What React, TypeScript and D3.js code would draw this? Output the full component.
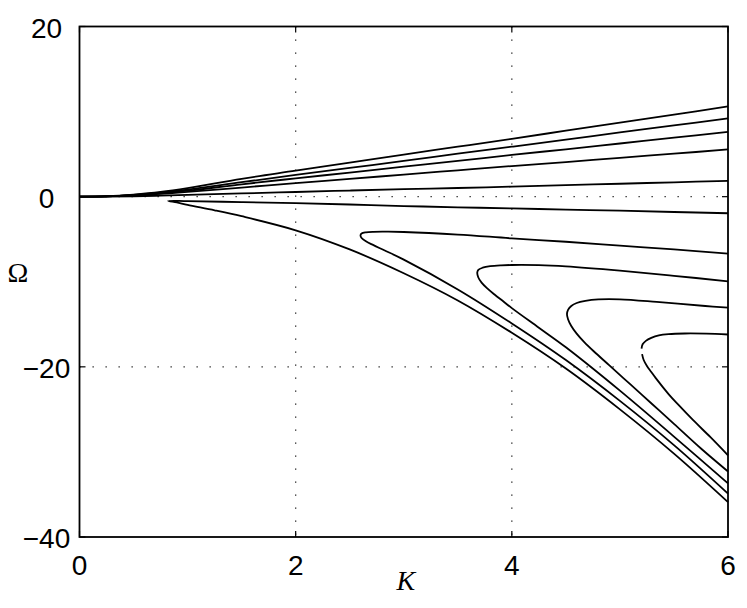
import React from "react";
import * as d3 from "d3";

// axis ticks
const xTicks = [0, 2, 4, 6];
const yTicks = [20, 0, -20, -40];
const xGrid = [2, 4];
const yGrid = [0, -20];

// branches rising from the origin (K, Omega)
const upper1 = [[0, 0], [0.25, 0.06], [0.5, 0.25], [0.75, 0.55], [1, 1.0], [1.5, 2.1], [2, 3.05], [2.5, 4.0], [3, 4.95], [3.5, 5.87], [4, 6.8], [4.5, 7.75], [5, 8.7], [5.5, 9.65], [6, 10.6]];
const upper2 = [[0, 0], [0.25, 0.05], [0.5, 0.22], [0.75, 0.48], [1, 0.83], [1.5, 1.7], [2, 2.55], [2.5, 3.38], [3, 4.2], [3.5, 5.05], [4, 5.87], [4.5, 6.7], [5, 7.55], [5.5, 8.37], [6, 9.2]];
const upper3 = [[0, 0], [0.25, 0.04], [0.5, 0.18], [0.75, 0.4], [1, 0.7], [1.5, 1.45], [2, 2.15], [2.5, 2.83], [3, 3.52], [3.5, 4.2], [4, 4.9], [4.5, 5.57], [5, 6.25], [5.5, 6.93], [6, 7.62]];
const upper4 = [[0, 0], [0.25, 0.03], [0.5, 0.14], [0.75, 0.32], [1, 0.56], [1.5, 1.07], [2, 1.6], [2.5, 2.08], [3, 2.6], [3.5, 3.1], [4, 3.6], [4.5, 4.07], [5, 4.57], [5.5, 5.05], [6, 5.55]];
const upper5 = [[0, 0], [0.25, 0.01], [0.5, 0.05], [0.75, 0.12], [1, 0.2], [1.5, 0.38], [2, 0.55], [2.5, 0.72], [3, 0.88], [3.5, 1.02], [4, 1.18], [4.5, 1.35], [5, 1.52], [5.5, 1.69], [6, 1.86]];

// folded branches: upper arm and lower arm, both starting at the nose
const fold1Top = [[0.82, -0.49], [1, -0.52], [1.5, -0.64], [2, -0.77], [2.5, -0.92], [3, -1.1], [3.5, -1.25], [4, -1.38], [4.5, -1.52], [5, -1.65], [5.5, -1.8], [6, -1.95]];
const fold1Bot = [[0.82, -0.49], [0.9, -0.68], [1, -0.97], [1.25, -1.6], [1.5, -2.3], [2, -3.95], [2.5, -6.2], [3, -9.0], [3.5, -12.2], [4, -16.0], [4.5, -20.2], [5, -25.0], [5.5, -30.2], [6, -35.9]];
const fold2Top = [[2.6, -4.53], [2.61, -4.32], [2.65, -4.19], [2.72, -4.13], [2.85, -4.12], [3, -4.15], [3.5, -4.45], [4, -4.9], [4.5, -5.3], [5, -5.75], [5.5, -6.2], [6, -6.7]];
const fold2Bot = [[2.6, -4.53], [2.61, -4.85], [2.65, -5.25], [2.72, -5.7], [2.82, -6.3], [3, -7.4], [3.5, -10.9], [4, -14.9], [4.5, -19.2], [5, -24.0], [5.5, -29.2], [6, -34.9]];
const fold3Top = [[3.68, -8.92], [3.69, -8.6], [3.73, -8.35], [3.8, -8.17], [3.9, -8.07], [4, -8.03], [4.25, -8.05], [4.5, -8.2], [5, -8.7], [5.5, -9.3], [6, -9.95]];
const fold3Bot = [[3.68, -8.92], [3.69, -9.5], [3.72, -10.1], [3.77, -10.75], [3.84, -11.5], [3.92, -12.3], [4, -13.1], [4.25, -15.4], [4.5, -17.7], [5, -22.8], [5.5, -28.2], [6, -33.7]];
const fold4Top = [[4.51, -13.8], [4.52, -13.3], [4.55, -12.85], [4.6, -12.5], [4.68, -12.25], [4.8, -12.08], [5, -12.07], [5.34, -12.37], [5.79, -12.85], [6, -13.05]];
const fold4Bot = [[4.51, -13.8], [4.52, -14.4], [4.55, -15.2], [4.6, -16.1], [4.67, -17.1], [4.76, -18.2], [4.9, -19.8], [5.1, -22.1], [5.3, -24.4], [5.5, -26.7], [5.75, -29.6], [6, -32.3]];
const fold5Top = [[5.2, -17.86], [5.21, -17.35], [5.24, -16.95], [5.29, -16.6], [5.36, -16.3], [5.45, -16.15], [5.6, -16.08], [5.8, -16.1], [6, -16.2]];
const fold5Bot = [[5.205, -18.5], [5.22, -19.2], [5.25, -19.9], [5.29, -20.6], [5.33, -21.3], [5.45, -23.2], [5.54, -24.45], [5.68, -26.3], [5.84, -28.3], [6, -30.4]];

const width = 747;
const height = 608;
const left = 79.5, right = 728, top = 26.5, bottom = 537;

export default function App() {
  const x = d3.scaleLinear().domain([0, 6]).range([left, right]);
  const y = d3.scaleLinear().domain([-40, 20]).range([bottom, top]);

  const line = d3
    .line<number[]>()
    .x((d) => x(d[0]))
    .y((d) => y(d[1]))
    .curve(d3.curveCatmullRom.alpha(0.5));

  // join each fold through its nose so it reads as one curve
  const joined = (a: number[][], b: number[][]) => [...b.slice().reverse(), ...a.slice(1)];

  const paths = [
    upper1, upper2, upper3, upper4, upper5,
    joined(fold1Top, fold1Bot),
    joined(fold2Top, fold2Bot),
    joined(fold3Top, fold3Bot),
    joined(fold4Top, fold4Bot),
    fold5Top, fold5Bot,
  ];

  const tickFont = "Liberation Sans, Arial, Helvetica, sans-serif";
  const tickLen = 6;

  return (
    <div style={{ position: "absolute", left: 0, top: 0 }}>
      <svg width={width} height={height} style={{ display: "block", background: "#fff" }}>
        {/* dotted grid */}
        {xGrid.map((k) => (
          <line key={"gx" + k} x1={x(k)} x2={x(k)} y1={top} y2={bottom}
            stroke="#222" strokeWidth={1.3} strokeDasharray="1.3 11.7" />
        ))}
        {yGrid.map((v) => (
          <line key={"gy" + v} x1={left} x2={right} y1={y(v)} y2={y(v)}
            stroke="#222" strokeWidth={1.3} strokeDasharray="1.3 11.7" />
        ))}

        {/* curves */}
        {paths.map((p, i) => (
          <path key={i} d={line(p) || ""} fill="none" stroke="#000" strokeWidth={1.8} />
        ))}

        {/* inward ticks on all sides */}
        {xTicks.map((k) => (
          <g key={"tx" + k}>
            <line x1={x(k)} x2={x(k)} y1={bottom} y2={bottom - tickLen} stroke="#000" strokeWidth={1.2} />
            <line x1={x(k)} x2={x(k)} y1={top} y2={top + tickLen} stroke="#000" strokeWidth={1.2} />
          </g>
        ))}
        {yTicks.map((v) => (
          <g key={"ty" + v}>
            <line x1={left} x2={left + tickLen} y1={y(v)} y2={y(v)} stroke="#000" strokeWidth={1.2} />
            <line x1={right} x2={right - tickLen} y1={y(v)} y2={y(v)} stroke="#000" strokeWidth={1.2} />
          </g>
        ))}

        {/* axes box */}
        <rect x={left} y={top} width={right - left} height={bottom - top}
          fill="none" stroke="#000" strokeWidth={1.8} />

        {/* tick labels */}
        {xTicks.map((k) => (
          <text key={"lx" + k} x={x(k)} y={575} textAnchor="middle"
            fontFamily={tickFont} fontSize={28}>{k}</text>
        ))}
        {yTicks.map((v) => (
          <text key={"ly" + v} x={46.5} y={y(v) + 11} textAnchor="middle"
            fontFamily={tickFont} fontSize={28}>{v < 0 ? "\u2212" + Math.abs(v) : v}</text>
        ))}

        {/* axis labels */}
        <text x={x(3.02)} y={590} textAnchor="middle" fontFamily="Liberation Serif, Times New Roman, serif"
          fontStyle="italic" fontSize={28}>K</text>
        <text x={18} y={282} textAnchor="middle" fontFamily="Liberation Serif, Times New Roman, serif"
          fontSize={28}>Ω</text>
      </svg>
    </div>
  );
}
